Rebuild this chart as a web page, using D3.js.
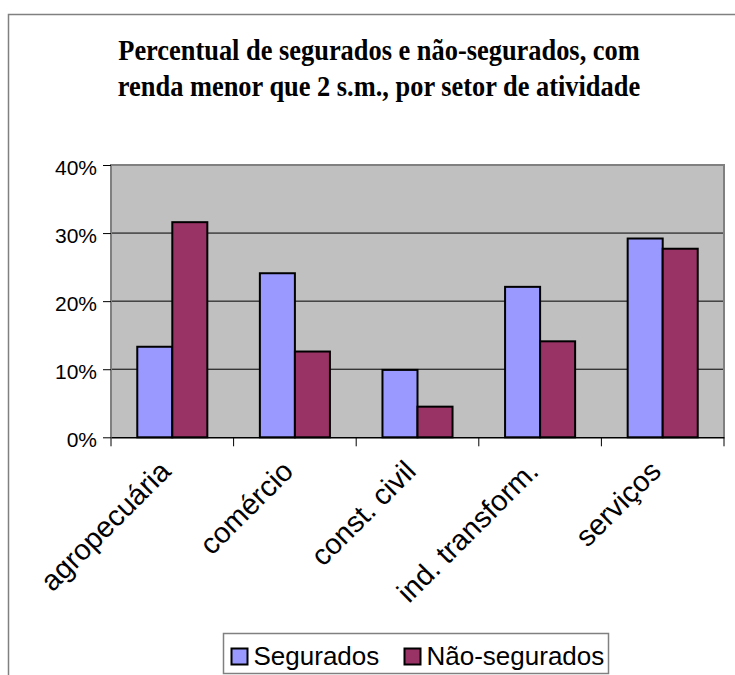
<!DOCTYPE html>
<html>
<head>
<meta charset="utf-8">
<script src="https://cdn.jsdelivr.net/npm/d3@7"></script>
<style>
  html, body { margin: 0; padding: 0; background: #fff; }
  svg { display: block; }
</style>
</head>
<body>
<svg id="chart" width="735" height="675"></svg>
<script>
// Sectors and the share of workers earning under 2 minimum wages
const categories = ["agropecuária", "comércio", "const. civil", "ind. transform.", "serviços"];
const seriesNames = ["Segurados", "Não-segurados"];
const segurados = [13.3, 24.1, 9.9, 22.1, 29.2];
const naoSegurados = [31.6, 12.6, 4.5, 14.1, 27.7];
const yTicks = [0, 10, 20, 30, 40];
const titleLines = [
  "Percentual de segurados e não-segurados, com",
  "renda menor que 2 s.m., por setor de atividade"
];

const colors = { "Segurados": "#9999FF", "Não-segurados": "#993366" };
const rows = categories.map((c, i) => ({ cat: c, values: [
  { key: "Segurados", value: segurados[i] },
  { key: "Não-segurados", value: naoSegurados[i] }
]}));

const svg = d3.select("#chart");
const plot = { left: 111, right: 724, top: 165, bottom: 437.3 };

// chart area frame
svg.append("rect")
  .attr("x", 8.5).attr("y", 14.5)
  .attr("width", 760).attr("height", 700)
  .attr("fill", "#fff").attr("stroke", "#808080").attr("stroke-width", 1.5);

// title (condensed serif, two lines)
const title = svg.append("g")
  .attr("transform", "translate(379,0) scale(0.88,1)");
title.selectAll("text").data(titleLines).join("text")
  .attr("x", 0)
  .attr("y", (d, i) => 60 + i * 36)
  .attr("text-anchor", "middle")
  .attr("font-family", "'Liberation Serif', 'Times New Roman', serif")
  .attr("font-weight", "bold")
  .attr("font-size", 30)
  .attr("fill", "#000")
  .text(d => d);

const x0 = d3.scaleBand().domain(categories).range([plot.left, plot.right]).padding(0);
const x1 = d3.scaleBand().domain(seriesNames).range([0, x0.bandwidth()])
  .paddingInner(0).paddingOuter(0.75);
const y = d3.scaleLinear().domain([0, 40]).range([plot.bottom, plot.top]);

// plot background
svg.append("rect")
  .attr("x", plot.left).attr("y", plot.top)
  .attr("width", plot.right - plot.left).attr("height", plot.bottom - plot.top)
  .attr("fill", "#C0C0C0");

// gridlines
svg.append("g").selectAll("line").data(yTicks.filter(t => t > 0 && t < 40)).join("line")
  .attr("x1", plot.left).attr("x2", plot.right)
  .attr("y1", d => y(d)).attr("y2", d => y(d))
  .attr("stroke", "#000").attr("stroke-width", 1);

// plot frame (left, top, right)
svg.append("path")
  .attr("d", `M${plot.left},${plot.bottom}V${plot.top}H${plot.right}V${plot.bottom}`)
  .attr("fill", "none").attr("stroke", "#808080").attr("stroke-width", 2);

// bars
svg.append("g").selectAll("g").data(rows).join("g")
  .attr("transform", d => `translate(${x0(d.cat)},0)`)
  .selectAll("rect").data(d => d.values).join("rect")
  .attr("x", d => x1(d.key))
  .attr("y", d => y(d.value))
  .attr("width", x1.bandwidth())
  .attr("height", d => y(0) - y(d.value))
  .attr("fill", d => colors[d.key])
  .attr("stroke", "#000").attr("stroke-width", 2);

// y axis
const yAxis = svg.append("g")
  .attr("transform", `translate(${plot.left},0)`)
  .call(d3.axisLeft(y).tickValues(yTicks).tickSize(8).tickPadding(6).tickFormat(d => d + "%"));
yAxis.select(".domain").remove();
yAxis.selectAll(".tick line").attr("stroke", "#000");
yAxis.selectAll(".tick text")
  .attr("font-family", "'Liberation Sans', Arial, sans-serif")
  .attr("font-size", 21).attr("fill", "#000").attr("dy", "0.45em");

// x axis
const xAxis = svg.append("g")
  .attr("transform", `translate(0,${plot.bottom})`)
  .call(d3.axisBottom(x0).tickSize(0).tickFormat(""));
xAxis.select(".domain").attr("stroke", "#000").attr("stroke-width", 1.5);
const edges = categories.map(c => x0(c)).concat([plot.right]);
xAxis.append("g").selectAll("line").data(edges).join("line")
  .attr("x1", d => d).attr("x2", d => d)
  .attr("y1", 0).attr("y2", 9)
  .attr("stroke", "#000").attr("stroke-width", 1);

// rotated category labels, right end under each group centre
svg.append("g").selectAll("text").data(categories).join("text")
  .attr("transform", d => `translate(${x0(d) + x0.bandwidth() / 2},473) rotate(-45)`)
  .attr("text-anchor", "end")
  .attr("font-family", "'Liberation Sans', Arial, sans-serif")
  .attr("font-size", 29).attr("fill", "#000")
  .text(d => d);

// legend
const legend = svg.append("g").attr("transform", "translate(223.5,633.5)");
legend.append("rect")
  .attr("width", 385).attr("height", 40)
  .attr("fill", "#fff").attr("stroke", "#808080").attr("stroke-width", 1.5);
const legendX = [8, 181];
const items = legend.selectAll("g").data(seriesNames).join("g")
  .attr("transform", (d, i) => `translate(${legendX[i]},0)`);
items.append("rect")
  .attr("x", 0).attr("y", 15).attr("width", 16).attr("height", 16)
  .attr("fill", d => colors[d]).attr("stroke", "#000").attr("stroke-width", 2);
items.append("text")
  .attr("x", 22).attr("y", 31)
  .attr("font-family", "'Liberation Sans', Arial, sans-serif")
  .attr("font-size", 26).attr("fill", "#000")
  .text(d => d);
</script>
</body>
</html>
